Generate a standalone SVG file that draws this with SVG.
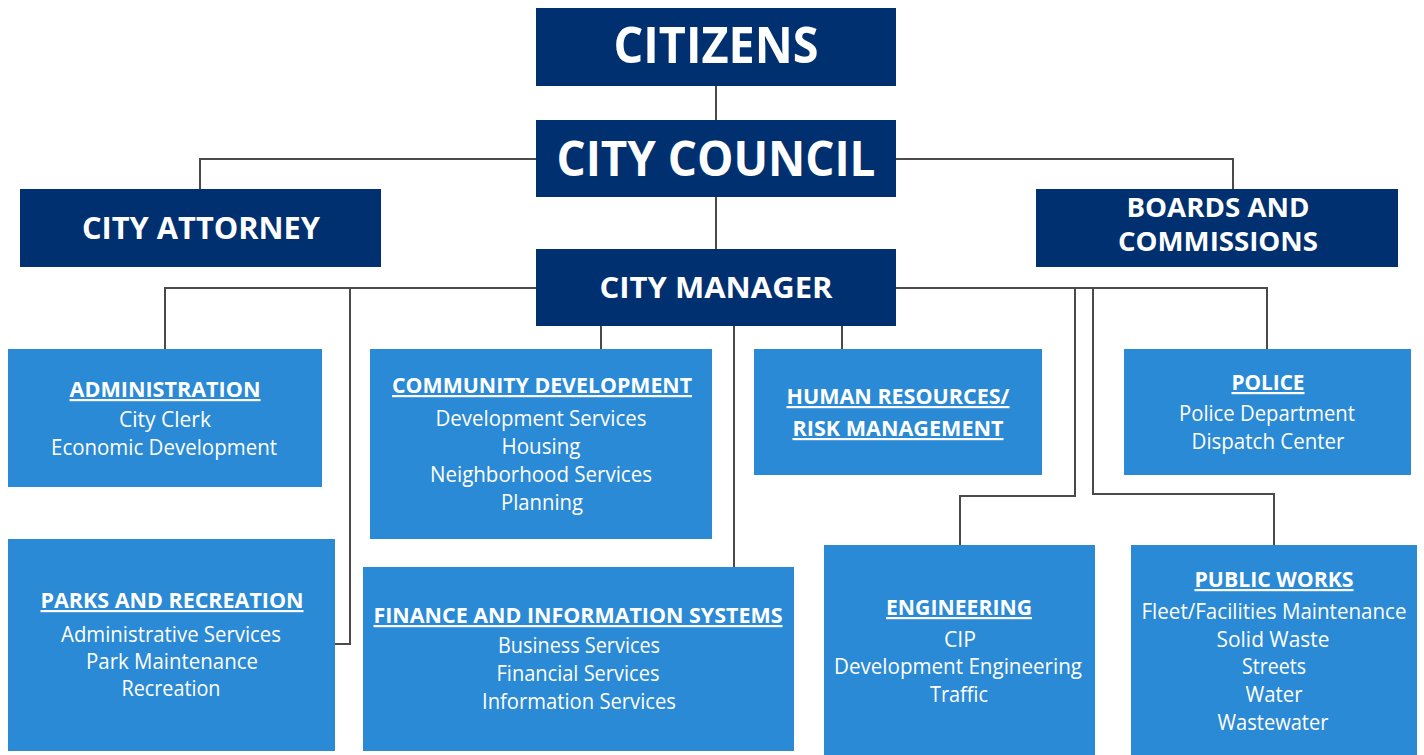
<svg xmlns="http://www.w3.org/2000/svg" width="1424" height="755" viewBox="0 0 1424 755">
<style>
.dk{fill:#00306f}
.lt{fill:#2a8ad5}
.t{font-family:"Open Sans","Noto Sans",sans-serif;fill:#fff;text-anchor:middle}
.b{font-weight:bold}
.h{font-weight:bold;font-size:22px;text-decoration:underline}
.i{font-size:21px}
.c{fill:none;stroke:#4a4a4a;stroke-width:2}
</style>
<rect width="1424" height="755" fill="#fff"/>
<g id="connectors">
<path class="c" d="M716 86V120M716 197V249"/>
<path class="c" d="M536 159H200V189M896 159H1233V189"/>
<path class="c" d="M536 288H165V349M350 288V644H335"/>
<path class="c" d="M601 326V349M734 326V567M842 326V349"/>
<path class="c" d="M896 288H1267V349M1075 288V496H960V545M1093 288V494H1274V545"/>
</g>
<g id="citizens"><rect class="dk" x="536" y="8" width="360" height="78"/><text class="t b" x="716" y="63" font-size="50" textLength="205" lengthAdjust="spacingAndGlyphs">CITIZENS</text></g>
<g id="city-council"><rect class="dk" x="536" y="120" width="360" height="77"/><text class="t b" x="716" y="176" font-size="48" textLength="319" lengthAdjust="spacingAndGlyphs">CITY COUNCIL</text></g>
<g id="city-attorney"><rect class="dk" x="20" y="189" width="361" height="78"/><text class="t b" x="201" y="239" font-size="31" textLength="238" lengthAdjust="spacingAndGlyphs">CITY ATTORNEY</text></g>
<g id="boards"><rect class="dk" x="1036" y="189" width="362" height="78"/><text class="t b" x="1218" y="217" font-size="26" textLength="183" lengthAdjust="spacingAndGlyphs">BOARDS AND</text><text class="t b" x="1218" y="251" font-size="26" textLength="200" lengthAdjust="spacingAndGlyphs">COMMISSIONS</text></g>
<g id="city-manager"><rect class="dk" x="536" y="249" width="360" height="77"/><text class="t b" x="716" y="298" font-size="29" textLength="233" lengthAdjust="spacingAndGlyphs">CITY MANAGER</text></g>
<g id="administration"><rect class="lt" x="8" y="349" width="314" height="138"/>
<text class="t h" x="165" y="397" textLength="191" lengthAdjust="spacingAndGlyphs">ADMINISTRATION</text>
<text class="t i" x="165" y="427" textLength="92" lengthAdjust="spacingAndGlyphs">City Clerk</text>
<text class="t i" x="164" y="455" textLength="226" lengthAdjust="spacingAndGlyphs">Economic Development</text></g>
<g id="community-development"><rect class="lt" x="370" y="349" width="342" height="190"/>
<text class="t h" x="542" y="393" textLength="300" lengthAdjust="spacingAndGlyphs">COMMUNITY DEVELOPMENT</text>
<text class="t i" x="541" y="426" textLength="211" lengthAdjust="spacingAndGlyphs">Development Services</text>
<text class="t i" x="541" y="454" textLength="79" lengthAdjust="spacingAndGlyphs">Housing</text>
<text class="t i" x="541" y="482" textLength="222" lengthAdjust="spacingAndGlyphs">Neighborhood Services</text>
<text class="t i" x="542" y="510" textLength="82" lengthAdjust="spacingAndGlyphs">Planning</text></g>
<g id="human-resources"><rect class="lt" x="754" y="349" width="288" height="126"/>
<text class="t h" x="898" y="404" textLength="223" lengthAdjust="spacingAndGlyphs">HUMAN RESOURCES/</text>
<text class="t h" x="898" y="436" textLength="211" lengthAdjust="spacingAndGlyphs">RISK MANAGEMENT</text></g>
<g id="police"><rect class="lt" x="1124" y="349" width="287" height="126"/>
<text class="t h" x="1268" y="390" textLength="73" lengthAdjust="spacingAndGlyphs">POLICE</text>
<text class="t i" x="1267" y="421" textLength="176" lengthAdjust="spacingAndGlyphs">Police Department</text>
<text class="t i" x="1268" y="449" textLength="153" lengthAdjust="spacingAndGlyphs">Dispatch Center</text></g>
<g id="parks-and-recreation"><rect class="lt" x="8" y="539" width="327" height="212"/>
<text class="t h" x="172" y="608" textLength="263" lengthAdjust="spacingAndGlyphs">PARKS AND RECREATION</text>
<text class="t i" x="171" y="642" textLength="220" lengthAdjust="spacingAndGlyphs">Administrative Services</text>
<text class="t i" x="172" y="669" textLength="172" lengthAdjust="spacingAndGlyphs">Park Maintenance</text>
<text class="t i" x="171" y="696" textLength="99" lengthAdjust="spacingAndGlyphs">Recreation</text></g>
<g id="finance"><rect class="lt" x="363" y="567" width="431" height="184"/>
<text class="t h" x="578" y="623" textLength="409" lengthAdjust="spacingAndGlyphs">FINANCE AND INFORMATION SYSTEMS</text>
<text class="t i" x="579" y="653" textLength="162" lengthAdjust="spacingAndGlyphs">Business Services</text>
<text class="t i" x="578" y="681" textLength="163" lengthAdjust="spacingAndGlyphs">Financial Services</text>
<text class="t i" x="579" y="709" textLength="194" lengthAdjust="spacingAndGlyphs">Information Services</text></g>
<g id="engineering"><rect class="lt" x="824" y="545" width="271" height="210"/>
<text class="t h" x="959" y="615" textLength="146" lengthAdjust="spacingAndGlyphs">ENGINEERING</text>
<text class="t i" x="960" y="647" textLength="32" lengthAdjust="spacingAndGlyphs">CIP</text>
<text class="t i" x="958" y="674" textLength="248" lengthAdjust="spacingAndGlyphs">Development Engineering</text>
<text class="t i" x="959" y="702" textLength="58" lengthAdjust="spacingAndGlyphs">Traffic</text></g>
<g id="public-works"><rect class="lt" x="1131" y="545" width="286" height="210"/>
<text class="t h" x="1274" y="587" textLength="159" lengthAdjust="spacingAndGlyphs">PUBLIC WORKS</text>
<text class="t i" x="1274" y="619" textLength="265" lengthAdjust="spacingAndGlyphs">Fleet/Facilities Maintenance</text>
<text class="t i" x="1273" y="647" textLength="113" lengthAdjust="spacingAndGlyphs">Solid Waste</text>
<text class="t i" x="1274" y="674" textLength="64" lengthAdjust="spacingAndGlyphs">Streets</text>
<text class="t i" x="1274" y="702" textLength="57" lengthAdjust="spacingAndGlyphs">Water</text>
<text class="t i" x="1273" y="730" textLength="111" lengthAdjust="spacingAndGlyphs">Wastewater</text></g>
</svg>
